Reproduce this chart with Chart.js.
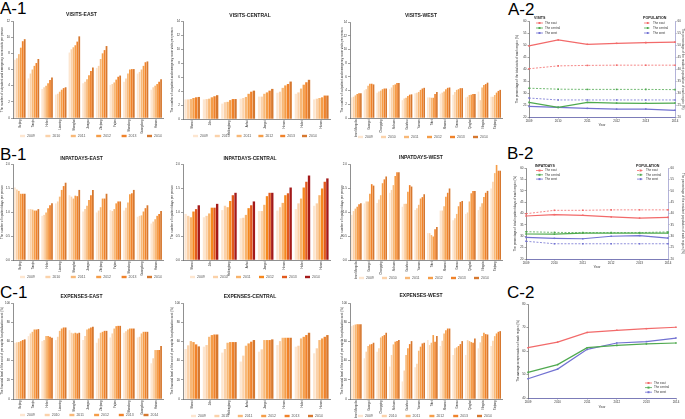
<!DOCTYPE html>
<html><head><meta charset="utf-8">
<script src="https://cdn.jsdelivr.net/npm/chart.js@4/dist/chart.umd.min.js"></script>
<style>
html,body{margin:0;padding:0;background:#fff;}
#wrap{position:relative;width:685px;height:419px;overflow:hidden;background:#fff;font-family:"Liberation Sans",Arial,sans-serif;}
canvas{position:absolute;}
.lab{position:absolute;font-size:17px;color:#000;line-height:1;}
</style></head>
<body><div id="wrap">
<div class="lab" style="left:0px;top:0px">A-1</div>
<div class="lab" style="left:508px;top:1px">A-2</div>
<div class="lab" style="left:0px;top:146px">B-1</div>
<div class="lab" style="left:507px;top:145px">B-2</div>
<div class="lab" style="left:0px;top:284px">C-1</div>
<div class="lab" style="left:507px;top:284px">C-2</div>
</div>
<script>
// ---------- DATA ----------
const years = ['2009','2010','2011','2012','2013','2014'];
const eastProvinces = ['Beijing','Tianjin','Hebei','Liaoning','Shanghai','Jiangsu','Zhejiang','Fujian','Shandong','Guangdong','Hainan'];
const centralProvinces = ['Shanxi','Jilin','Heilongjiang','Anhui','Jiangxi','Henan','Hubei','Hunan'];
const westProvinces = ['Inner Mongolia','Guangxi','Chongqing','Sichuan','Guizhou','Yunnan','Tibet','Shaanxi','Gansu','Qinghai','Ningxia','Xinjiang'];

// rows: one per province, values 2009..2014
const visitsEast = [
  [7.2,7.4,7.9,8.7,9.5,9.75],[4.9,5.5,6.0,6.45,6.8,7.3],[3.6,3.8,4.0,4.3,4.7,5.0],[2.9,3.0,3.25,3.5,3.7,3.8],
  [8.1,8.5,8.75,9.0,9.45,10.1],[4.3,4.5,4.8,5.3,5.8,6.25],[6.2,6.45,7.3,8.0,8.4,8.9],[4.1,4.2,4.4,4.75,5.1,5.25],
  [4.5,4.9,5.5,6.0,6.05,6.05],[5.5,5.7,6.0,6.45,6.9,7.0],[3.5,3.8,4.0,4.2,4.5,4.8]];
const visitsCentral = [
  [2.8,2.8,2.85,3.0,3.1,3.15],[2.8,2.85,2.9,3.1,3.25,3.4],[2.2,2.4,2.45,2.7,2.85,2.85],[2.9,3.0,3.15,3.6,3.9,4.05],
  [3.2,3.2,3.6,3.8,4.05,4.3],[3.75,3.9,4.45,4.8,5.0,5.35],[3.6,3.8,4.35,4.9,5.25,5.6],[2.8,2.9,3.0,3.1,3.35,3.35]];
const visitsWest = [
  [3.0,3.1,3.3,3.5,3.6,3.6],[4.05,4.2,4.7,5.0,5.0,4.9],[3.7,3.85,4.0,4.2,4.3,4.3],[4.2,4.45,4.8,4.9,5.1,5.1],
  [2.6,2.85,2.95,3.2,3.4,3.45],[3.6,3.7,3.8,4.1,4.3,4.4],[3.0,3.0,2.95,2.95,3.5,3.8],[3.55,3.7,3.85,4.2,4.4,4.45],
  [3.4,3.8,4.1,4.2,4.35,4.35],[3.0,3.1,3.35,3.4,3.5,3.5],[3.85,2.6,4.45,4.8,4.95,5.15],[3.1,3.1,3.35,3.7,3.95,4.1]];

const inpatEast = [
  [1.51,1.47,1.44,1.38,1.38,1.38],[1.06,1.06,1.05,1.03,1.03,1.06],[0.92,0.94,0.99,1.08,1.14,1.18],[1.18,1.22,1.32,1.46,1.54,1.61],
  [1.35,1.32,1.28,1.34,1.33,1.46],[1.01,1.06,1.13,1.25,1.35,1.46],[0.99,1.03,1.10,1.28,1.28,1.38],[1.04,1.02,1.06,1.18,1.22,1.22],
  [1.03,1.09,1.20,1.37,1.39,1.46],[0.90,0.92,0.93,1.01,1.08,1.14],[0.76,0.80,0.85,0.92,0.96,1.02]];
const inpatCentral = [
  [0.96,0.92,0.89,1.01,1.06,1.14],[0.89,0.92,0.97,1.09,1.09,1.17],[1.04,1.13,1.10,1.23,1.35,1.40],[0.87,0.88,0.94,1.08,1.14,1.22],
  [1.02,1.02,1.15,1.33,1.40,1.40],[1.03,1.10,1.19,1.35,1.39,1.51],[1.06,1.18,1.28,1.51,1.63,1.76],[1.13,1.18,1.35,1.49,1.63,1.70]];
const inpatWest = [
  [0.94,1.02,1.07,1.11,1.16,1.18],[1.18,1.22,1.22,1.38,1.58,1.55],[1.19,1.26,1.35,1.60,1.68,1.74],[1.40,1.46,1.56,1.75,1.83,1.83],
  [1.11,1.17,1.17,1.42,1.56,1.53],[1.04,1.08,1.15,1.28,1.31,1.37],[0.56,0.56,0.52,0.49,0.64,0.69],[1.03,1.03,1.12,1.32,1.40,1.49],
  [0.83,0.87,0.96,1.12,1.21,1.23],[0.96,0.99,1.22,1.39,1.44,1.44],[1.04,1.11,1.18,1.31,1.40,1.44],[1.49,1.63,1.81,1.98,1.86,1.86]];

const expEast = [
  [58.6,59.0,59.3,60.3,61.4,62.1],[65.5,68.3,70.0,72.4,72.4,72.8],[60.3,61.4,65.5,65.5,64.8,63.8],[61.4,64.8,71.0,73.4,74.5,74.5],
  [71.7,69.0,68.3,69.0,68.3,69.0],[61.4,65.5,72.4,73.4,74.5,75.2],[58.6,63.1,69.0,70.0,71.0,71.0],[64.1,68.3,73.4,75.9,76.2,76.2],
  [69.0,70.7,72.4,73.4,73.4,73.4],[64.1,64.8,68.3,70.0,70.0,70.0],[37.2,42.4,51.0,51.0,51.0,55.2]];
const expCentral = [
  [52.1,55.9,60.3,59.3,56.9,54.8],[54.5,56.2,64.8,66.6,67.2,67.2],[48.3,52.1,58.6,59.3,59.3,59.3],[39.0,45.2,55.5,57.9,59.7,61.4],
  [49.3,51.7,61.4,61.4,61.4,62.1],[56.2,60.3,63.8,63.8,63.8,63.8],[54.5,55.5,63.1,64.8,66.6,69.0],[47.6,52.8,61.4,63.1,64.8,66.6]];
const expWest = [
  [75.9,76.9,77.6,77.9,77.9,77.9],[42.4,49.3,55.2,56.9,57.2,58.6],[49.3,52.8,64.1,65.5,66.6,69.0],[33.8,45.9,56.9,59.7,60.3,61.4],
  [18.3,29.7,45.9,52.8,57.2,60.3],[33.1,36.6,50.3,54.5,57.9,58.6],[61.4,56.2,58.6,66.6,59.7,65.5],[55.2,60.7,68.3,71.7,73.4,73.4],
  [45.9,52.8,53.8,55.2,57.2,60.3],[45.9,61.4,60.3,59.3,58.6,63.1],[52.8,59.0,65.5,69.0,67.6,67.2],[55.2,60.7,65.5,68.3,70.0,70.7]];

// line charts
const visitsShareEast    = [49.6,52.1,50.3,50.7,51.0,51.2];
const visitsShareCentral = [26.1,24.0,26.1,25.8,25.7,25.8];
const visitsShareWest    = [24.4,24.0,23.6,23.3,23.3,22.8];
const popShareEast    = [40.1,41.3,41.5,41.6,41.6,41.6];
const popShareCentral = [32.0,31.6,31.5,31.5,31.5,31.4];
const popShareWest    = [27.9,27.1,27.1,27.1,27.1,27.1];
const inpatShareEast    = [38.9,39.5,39.2,38.5,38.0,38.3];
const inpatShareCentral = [31.0,30.9,31.4,31.4,31.4,31.4];
const inpatShareWest    = [29.5,29.1,28.9,30.0,30.3,29.2];
const popShareEastB    = [39.9,41.4,41.4,41.6,41.6,41.6];
const popShareCentralB = [32.0,31.7,31.6,31.6,31.6,31.9];
const popShareWestB    = [27.8,26.7,26.7,26.7,26.7,26.7];
const compEast    = [61.4,63.8,67.9,68.8,69.5,70.1];
const compCentral = [50.9,54.2,61.4,62.4,63.0,63.4];
const compWest    = [48.2,52.3,60.7,63.4,64.0,65.5];

// ---------- STYLE ----------
const FONT = 'Liberation Sans, Arial, sans-serif';
Chart.defaults.font.family = FONT;
const orangeColors = ['#fde6d0','#fbd2aa','#f8b877','#f59d48','#f0822a','#d6782f'];
const redColors    = ['#fde6d0','#fbd1a8','#f8b36b','#f5871d','#e25a1d','#a31a1a'];
const RED = '#f26a6a', GREEN = '#4fa94f', BLUE = '#7272d2';
const AX = '#444';

const wrap = document.getElementById('wrap');
function makeCanvas(left, top, w, h) {
  const c = document.createElement('canvas');
  c.width = Math.round(w); c.height = Math.round(h);
  c.style.left = left + 'px'; c.style.top = top + 'px';
  c.style.width = Math.round(w) + 'px'; c.style.height = Math.round(h) + 'px';
  wrap.appendChild(c);
  return c;
}

// legend for the bar charts, built from the chart's own datasets
const barLegend = {
  id: 'barLegend',
  afterDraw(chart, args, o) {
    if (o.x0 === undefined) return;
    const ctx = chart.ctx;
    ctx.save();
    ctx.textBaseline = 'middle';
    ctx.font = '3.5px ' + FONT;
    chart.data.datasets.forEach((d, i) => {
      const x = o.x0 + i * o.dx;
      ctx.fillStyle = d.backgroundColor; ctx.fillRect(x, o.y - 1.2, 5, 2.4);
      ctx.fillStyle = '#555'; ctx.fillText(d.label, x + 7, o.y);
    });
    ctx.restore();
  }
};

function barChart(cfg) {
  const b = cfg.box;
  const XH = 24;
  const h = Math.round(Math.max(b.legendY + 4, b.chartBottom + XH) - b.top);
  const padBottom = h - (b.chartBottom - b.top) - XH;
  const c = makeCanvas(b.left, b.top, b.width, h);
  new Chart(c, {
    type: 'bar',
    data: {
      labels: cfg.cats,
      datasets: years.map((y, i) => ({
        label: y, data: cfg.rows.map(r => r[i]), backgroundColor: cfg.colors[i],
        borderWidth: 0, barPercentage: 0.9, categoryPercentage: 0.86
      }))
    },
    options: {
      responsive: false, animation: false, events: [],
      layout: { padding: { left: 0, right: b.left + b.width - b.chartRight, top: 0, bottom: padBottom } },
      plugins: {
        title: { display: true, text: cfg.title, color: '#222', font: { size: 5, weight: 'bold' },
          padding: { top: b.titleY - b.top - 3, bottom: b.chartTop - b.titleY - 3 } },
        legend: { display: false },
        tooltip: { enabled: false },
        barLegend: { x0: b.lx - b.left, dx: b.ldx, y: b.legendY - b.top }
      },
      scales: {
        x: {
          grid: { display: false, drawTicks: false },
          border: { display: true, color: AX, width: 0.6 },
          ticks: { minRotation: 90, maxRotation: 90, autoSkip: false, color: '#222', font: { size: 2.7 }, padding: 1.5 },
          afterFit: s => { s.height = XH; }
        },
        y: {
          min: 0, max: cfg.yMax,
          ticks: { stepSize: cfg.yStep, color: '#333', font: { size: 3 }, padding: 1,
            callback: v => cfg.dec ? Number(v).toFixed(cfg.dec) : v },
          grid: { display: true, drawOnChartArea: false, drawTicks: true, tickLength: 2, color: AX, lineWidth: 0.5 },
          border: { display: true, color: AX, width: 0.6 },
          title: { display: true, text: cfg.yTitle, color: '#333', font: { size: 3 }, padding: 0 },
          afterFit: s => { s.width = b.chartLeft - b.left; }
        }
      }
    },
    plugins: [barLegend]
  });
}

const lineLegend = {
  id: 'lineLegend',
  afterDraw(chart, args, opts) {
    if (!opts.blocks) return;
    const ctx = chart.ctx;
    opts.blocks.forEach(bl => {
      ctx.save();
      ctx.textBaseline = 'middle';
      if (bl.title) {
        ctx.font = 'bold 3.6px ' + FONT; ctx.fillStyle = '#222';
        ctx.fillText(bl.title, bl.tx, bl.ty);
      }
      bl.sets.forEach((di, k) => {
        const ds = chart.data.datasets[di];
        const y = bl.y0 + k * bl.dy;
        ctx.strokeStyle = ds.borderColor; ctx.lineWidth = 0.8;
        ctx.setLineDash(ds.borderDash || []);
        ctx.beginPath(); ctx.moveTo(bl.mx, y); ctx.lineTo(bl.mx + 7, y); ctx.stroke();
        ctx.setLineDash([]);
        ctx.fillStyle = ds.borderColor; ctx.fillRect(bl.mx + 2.5, y - 1, 2, 2);
        ctx.font = '3px ' + FONT; ctx.fillStyle = '#333';
        ctx.fillText(ds.label, bl.mx + 9, y);
      });
      ctx.restore();
    });
  }
};

function ds(label, data, color, dashed, axis) {
  return { label, data, borderColor: color, backgroundColor: color, borderWidth: dashed ? 0.8 : 1.2,
    borderDash: dashed ? [2, 1.5] : [], pointStyle: 'rect', pointRadius: 1.1, pointBorderWidth: 0,
    tension: 0, yAxisID: axis || 'y' };
}

function lineChart(cfg) {
  const b = cfg.box;
  const c = makeCanvas(b.left, b.top, b.width, b.height);
  const scales = {
    x: {
      offset: false,
      grid: { display: true, drawOnChartArea: false, drawTicks: true, tickLength: 1.5, color: AX, lineWidth: 0.5 },
      border: { display: true, color: '#5a5aa6', width: 0.8 },
      ticks: { color: '#333', font: { size: 3 }, padding: 1, maxRotation: 0 },
      title: { display: true, text: 'Year', color: '#333', font: { size: 3.5 }, padding: 0 },
      afterFit: s => { s.height = b.top + b.height - b.pb - b.chartBottom; }
    },
    y: {
      position: 'left', min: cfg.yMin, max: cfg.yMax,
      ticks: { stepSize: cfg.yStep, color: '#333', font: { size: 3 }, padding: 1 },
      grid: { display: true, drawOnChartArea: false, drawTicks: true, tickLength: 1.5, color: AX, lineWidth: 0.5 },
      border: { display: true, color: AX, width: 0.6 },
      title: { display: true, text: cfg.yTitle, color: '#333', font: { size: 3 }, padding: 0 },
      afterFit: s => { s.width = b.chartLeft - b.left - b.pl; }
    }
  };
  if (cfg.y1Title) {
    scales.y1 = {
      position: 'right', min: cfg.yMin, max: cfg.yMax,
      ticks: { stepSize: cfg.yStep, color: '#333', font: { size: 3 }, padding: 1 },
      grid: { display: true, drawOnChartArea: false, drawTicks: true, tickLength: 1.5, color: AX, lineWidth: 0.5 },
      border: { display: true, color: '#8080c0', width: 0.6 },
      title: { display: true, text: cfg.y1Title, color: '#333', font: { size: 3 }, padding: 0 },
      afterFit: s => { s.width = b.left + b.width - b.pr - b.chartRight; }
    };
  }
  new Chart(c, {
    type: 'line',
    data: { labels: years, datasets: cfg.datasets },
    options: {
      responsive: false, animation: false, events: [],
      layout: { padding: { left: b.pl, right: b.pr, top: b.chartTop - b.top, bottom: b.pb } },
      plugins: { legend: { display: false }, tooltip: { enabled: false }, lineLegend: { blocks: cfg.blocks } },
      scales
    },
    plugins: [lineLegend]
  });
}

// ---------- CHARTS ----------
const visitsTitle = 'The number of outpatient and emergency room visits per person';
const inpatTitle = 'The number of inpatient days per person';
const expTitle = 'The financial level of the cost of per capita hospitalization cost (%)';

const colA = { left: 0, width: 170, chartLeft: 13, chartRight: 163 };
const colB = { left: 170, width: 170, chartLeft: 183, chartRight: 330 };
const colC = { left: 340, width: 170, chartLeft: 350, chartRight: 502 };
const box = (col, extra) => Object.assign({}, col, extra);

barChart({ title: 'VISITS-EAST', cats: eastProvinces, rows: visitsEast, colors: orangeColors, yMax: 12, yStep: 2, yTitle: visitsTitle,
  box: box(colA, { top: 0, chartTop: 21, chartBottom: 118, titleY: 15, legendY: 136, lx: 20, ldx: 25.4 }) });
barChart({ title: 'VISITS-CENTRAL', cats: centralProvinces, rows: visitsCentral, colors: orangeColors, yMax: 14, yStep: 2, yTitle: visitsTitle,
  box: box(colB, { top: 0, chartTop: 21, chartBottom: 119, titleY: 16, legendY: 136, lx: 193, ldx: 21.8 }) });
barChart({ title: 'VISITS-WEST', cats: westProvinces, rows: visitsWest, colors: orangeColors, yMax: 14, yStep: 2, yTitle: visitsTitle,
  box: box(colC, { top: 0, chartTop: 22, chartBottom: 118, titleY: 16, legendY: 137, lx: 358, ldx: 23 }) });

barChart({ title: 'INPATDAYS-EAST', cats: eastProvinces, rows: inpatEast, colors: orangeColors, yMax: 2, yStep: 0.5, dec: 1, yTitle: inpatTitle,
  box: box(colA, { top: 140, chartTop: 164, chartBottom: 260, titleY: 159, legendY: 277, lx: 20, ldx: 25.4 }) });
barChart({ title: 'INPATDAYS-CENTRAL', cats: centralProvinces, rows: inpatCentral, colors: redColors, yMax: 2, yStep: 0.5, dec: 1, yTitle: inpatTitle,
  box: box(colB, { top: 140, chartTop: 164, chartBottom: 260, titleY: 159, legendY: 277, lx: 190, ldx: 23 }) });
barChart({ title: 'INPATDAYS-WEST', cats: westProvinces, rows: inpatWest, colors: orangeColors, yMax: 2, yStep: 0.5, dec: 1, yTitle: inpatTitle,
  box: box(colC, { top: 140, chartTop: 164, chartBottom: 260, titleY: 158, legendY: 278, lx: 359, ldx: 23 }) });

barChart({ title: 'EXPENSES-EAST', cats: eastProvinces, rows: expEast, colors: orangeColors, yMax: 100, yStep: 20, yTitle: expTitle,
  box: box(colA, { top: 280, chartTop: 303, chartBottom: 399, titleY: 297, legendY: 415, lx: 20, ldx: 24.7 }) });
barChart({ title: 'EXPENSES-CENTRAL', cats: centralProvinces, rows: expCentral, colors: orangeColors, yMax: 100, yStep: 20, yTitle: expTitle,
  box: box(colB, { top: 280, chartTop: 303, chartBottom: 399, titleY: 297, legendY: 416, lx: 191, ldx: 23.4 }) });
barChart({ title: 'EXPENSES-WEST', cats: westProvinces, rows: expWest, colors: orangeColors, yMax: 100, yStep: 20, yTitle: expTitle,
  box: box(colC, { top: 280, chartTop: 303, chartBottom: 399, titleY: 296, legendY: 416, lx: 358, ldx: 23.8 }) });

lineChart({
  box: { left: 505, top: 0, width: 180, height: 140, chartLeft: 529, chartRight: 675, chartTop: 21, chartBottom: 117, pl: 10, pr: 0, pb: 13 },
  yMin: 20, yMax: 60, yStep: 5,
  yTitle: 'The percentage of the total visits of each region (%)',
  y1Title: 'The percentage of the resident population of each region (%)',
  datasets: [
    ds('The east', visitsShareEast, RED), ds('The central', visitsShareCentral, GREEN), ds('The west', visitsShareWest, BLUE),
    ds('The east', popShareEast, RED, true, 'y1'), ds('The central', popShareCentral, GREEN, true, 'y1'), ds('The west', popShareWest, BLUE, true, 'y1')
  ],
  blocks: [
    { title: 'VISITS', tx: 29, ty: 17.5, mx: 31, y0: 23, dy: 5, sets: [0, 1, 2] },
    { title: 'POPULATION', tx: 138, ty: 17.5, mx: 139, y0: 23, dy: 5, sets: [3, 4, 5] }
  ]
});
lineChart({
  box: { left: 505, top: 140, width: 180, height: 140, chartLeft: 526, chartRight: 668, chartTop: 168, chartBottom: 259, pl: 8, pr: 0, pb: 11 },
  yMin: 20, yMax: 60, yStep: 5,
  yTitle: 'The percentage of total inpatient days of each region (%)',
  y1Title: 'The percentage of the resident population of each region (%)',
  datasets: [
    ds('The east', inpatShareEast, RED), ds('The central', inpatShareCentral, GREEN), ds('The west', inpatShareWest, BLUE),
    ds('The east', popShareEastB, RED, true, 'y1'), ds('The central', popShareCentralB, GREEN, true, 'y1'), ds('The west', popShareWestB, BLUE, true, 'y1')
  ],
  blocks: [
    { title: 'INPATDAYS', tx: 30, ty: 26, mx: 31, y0: 30.5, dy: 4.3, sets: [0, 1, 2] },
    { title: 'POPULATION', tx: 131, ty: 26, mx: 132, y0: 30.5, dy: 4.3, sets: [3, 4, 5] }
  ]
});
lineChart({
  box: { left: 505, top: 280, width: 180, height: 139, chartLeft: 528, chartRight: 676, chartTop: 304, chartBottom: 398, pl: 11, pr: 9, pb: 10 },
  yMin: 40, yMax: 80, yStep: 10,
  yTitle: 'The average compensation of each region (%)',
  datasets: [ds('The east', compEast, RED), ds('The central', compCentral, GREEN), ds('The west', compWest, BLUE)],
  blocks: [{ title: '', mx: 140, y0: 103, dy: 4.6, sets: [0, 1, 2] }]
});
</script>
</body></html>
